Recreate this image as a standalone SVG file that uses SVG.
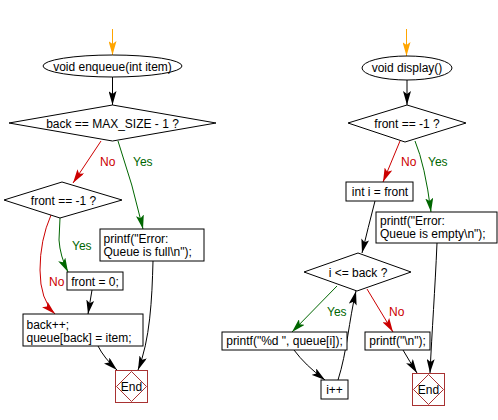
<svg xmlns="http://www.w3.org/2000/svg" width="498" height="420" viewBox="0 0 498 420">
<style>
.n{fill:#fff;stroke:#000;stroke-width:1}
.t{font-family:"Liberation Sans",Arial,sans-serif;font-size:12px;fill:#000}
.c{text-anchor:middle}
.e{fill:#fff;stroke:#a83232;stroke-width:1}
.k{fill:none;stroke:#000;stroke-width:1;marker-end:url(#mk)}
.r{fill:none;stroke:#cc0000;stroke-width:1;marker-end:url(#mr)}
.g{fill:none;stroke:#006600;stroke-width:1;marker-end:url(#mg)}
.o{fill:none;stroke:#ffa500;stroke-width:1;marker-end:url(#mo)}
.lr{font-family:"Liberation Sans",Arial,sans-serif;font-size:12px;fill:#cc0000}
.lg{font-family:"Liberation Sans",Arial,sans-serif;font-size:12px;fill:#006600}
</style>
<defs>
<marker id="mk" viewBox="0 0 14 8" markerWidth="14" markerHeight="8" refX="14" refY="4" orient="auto" markerUnits="userSpaceOnUse"><path d="M0,0 L14,4 L0,8 L3,4 z" fill="#000"/></marker>
<marker id="mr" viewBox="0 0 14 8" markerWidth="14" markerHeight="8" refX="14" refY="4" orient="auto" markerUnits="userSpaceOnUse"><path d="M0,0 L14,4 L0,8 L3,4 z" fill="#cc0000"/></marker>
<marker id="mg" viewBox="0 0 14 8" markerWidth="14" markerHeight="8" refX="14" refY="4" orient="auto" markerUnits="userSpaceOnUse"><path d="M0,0 L14,4 L0,8 L3,4 z" fill="#006600"/></marker>
<marker id="mo" viewBox="0 0 14 8" markerWidth="14" markerHeight="8" refX="14" refY="4" orient="auto" markerUnits="userSpaceOnUse"><path d="M0,0 L14,4 L0,8 L3,4 z" fill="#ffa500"/></marker>
</defs>

<g id="connectors">
<path class="o" d="M112.5,29 L112.5,55"/>
<path class="k" d="M112.5,77 L112.5,105"/>
<path class="r" d="M101,141 L73,183"/>
<path class="g" d="M118,141 Q133,185 143,229"/>
<path class="g" d="M60,218 L59,240 Q60,256 68,272"/>
<path class="r" d="M51,215 Q40,240 40,270 Q40,300 55,314"/>
<path class="k" d="M92,290 L88,314"/>
<path class="k" d="M98,346 Q104,358 117,370"/>
<path class="k" d="M153,261 C152,300 150,340 138,370"/>

<path class="o" d="M406.5,29 L406.5,56"/>
<path class="k" d="M407,80 L407,105"/>
<path class="r" d="M400,141 L383,182"/>
<path class="g" d="M415,141 Q425,165 431,212"/>
<path class="k" d="M375,201 Q368,228 362,253"/>
<path class="g" d="M337,286 L292,332"/>
<path class="r" d="M367,289 L393,332"/>
<path class="k" d="M294,350 Q305,365 325,380"/>
<path class="k" d="M338,380 C347,352 349,320 356,291"/>
<path class="k" d="M403,350 Q410,362 417,373"/>
<path class="k" d="M437,243 C435,290 432,330 430,373"/>

<text class="lr" x="100" y="166">No</text>
<text class="lg" x="133" y="166">Yes</text>
<text class="lg" x="72" y="250">Yes</text>
<text class="lr" x="49" y="286">No</text>
<text class="lr" x="401" y="166">No</text>
<text class="lg" x="428" y="166">Yes</text>
<text class="lg" x="327" y="316">Yes</text>
<text class="lr" x="389" y="316">No</text>
</g>

<g id="enqueue">
<ellipse class="n" cx="112.5" cy="66" rx="69.5" ry="11"/>
<text class="t c" x="112.5" y="70.5">void enqueue(int item)</text>
</g>
<g id="cond_full">
<polygon class="n" points="9,123 112.5,105 216,123 112.5,141"/>
<text class="t c" x="112.5" y="127.5">back == MAX_SIZE - 1 ?</text>
</g>
<g id="cond_front_l">
<polygon class="n" points="4,200 62,182 122,200 60,218"/>
<text class="t c" x="63.5" y="205">front == -1 ?</text>
</g>
<g id="err_full">
<rect class="n" x="100" y="229" width="104" height="32"/>
<text class="t" x="103.5" y="242.5">printf("Error:</text>
<text class="t" x="103.5" y="255.5">Queue is full\n");</text>
</g>
<g id="front_zero">
<rect class="n" x="67" y="272" width="56" height="18"/>
<text class="t c" x="95" y="285.5">front = 0;</text>
</g>
<g id="back_inc">
<rect class="n" x="23" y="314" width="120" height="32"/>
<text class="t" x="26.5" y="328.5">back++;</text>
<text class="t" x="26.5" y="341.5">queue[back] = item;</text>
</g>
<g id="end_l">
<rect class="e" x="115.5" y="370.5" width="32" height="32"/>
<polygon class="e" points="116.5,386.5 131.5,371.5 146.5,386.5 131.5,401.5"/>
<text class="t c" x="131.5" y="391">End</text>
</g>

<g id="display">
<ellipse class="n" cx="407" cy="68" rx="45" ry="12"/>
<text class="t c" x="407" y="72">void display()</text>
</g>
<g id="cond_front_r">
<polygon class="n" points="348,123 407,105 466,123 405,142"/>
<text class="t c" x="407" y="127.5">front == -1 ?</text>
</g>
<g id="init_i">
<rect class="n" x="346" y="182" width="67" height="19"/>
<text class="t c" x="380" y="196">int i = front</text>
</g>
<g id="err_empty">
<rect class="n" x="376" y="212" width="121" height="31"/>
<text class="t" x="380" y="225">printf("Error:</text>
<text class="t" x="380" y="238">Queue is empty\n");</text>
</g>
<g id="cond_loop">
<polygon class="n" points="304,272 358,253 411,272 357,291"/>
<text class="t c" x="358" y="276.5">i &lt;= back ?</text>
</g>
<g id="print_item">
<rect class="n" x="222" y="332" width="125" height="18"/>
<text class="t c" x="284.5" y="345">printf("%d ", queue[i]);</text>
</g>
<g id="print_nl">
<rect class="n" x="365" y="332" width="65" height="18"/>
<text class="t c" x="397.5" y="345">printf("\n");</text>
</g>
<g id="inc_i">
<rect class="n" x="321" y="380" width="27" height="19"/>
<text class="t c" x="334.5" y="393.5">i++</text>
</g>
<g id="end_r">
<rect class="e" x="412.5" y="373.5" width="32" height="32"/>
<polygon class="e" points="413.5,389.5 428.5,374.5 443.5,389.5 428.5,404.5"/>
<text class="t c" x="428.5" y="394">End</text>
</g>
</svg>
